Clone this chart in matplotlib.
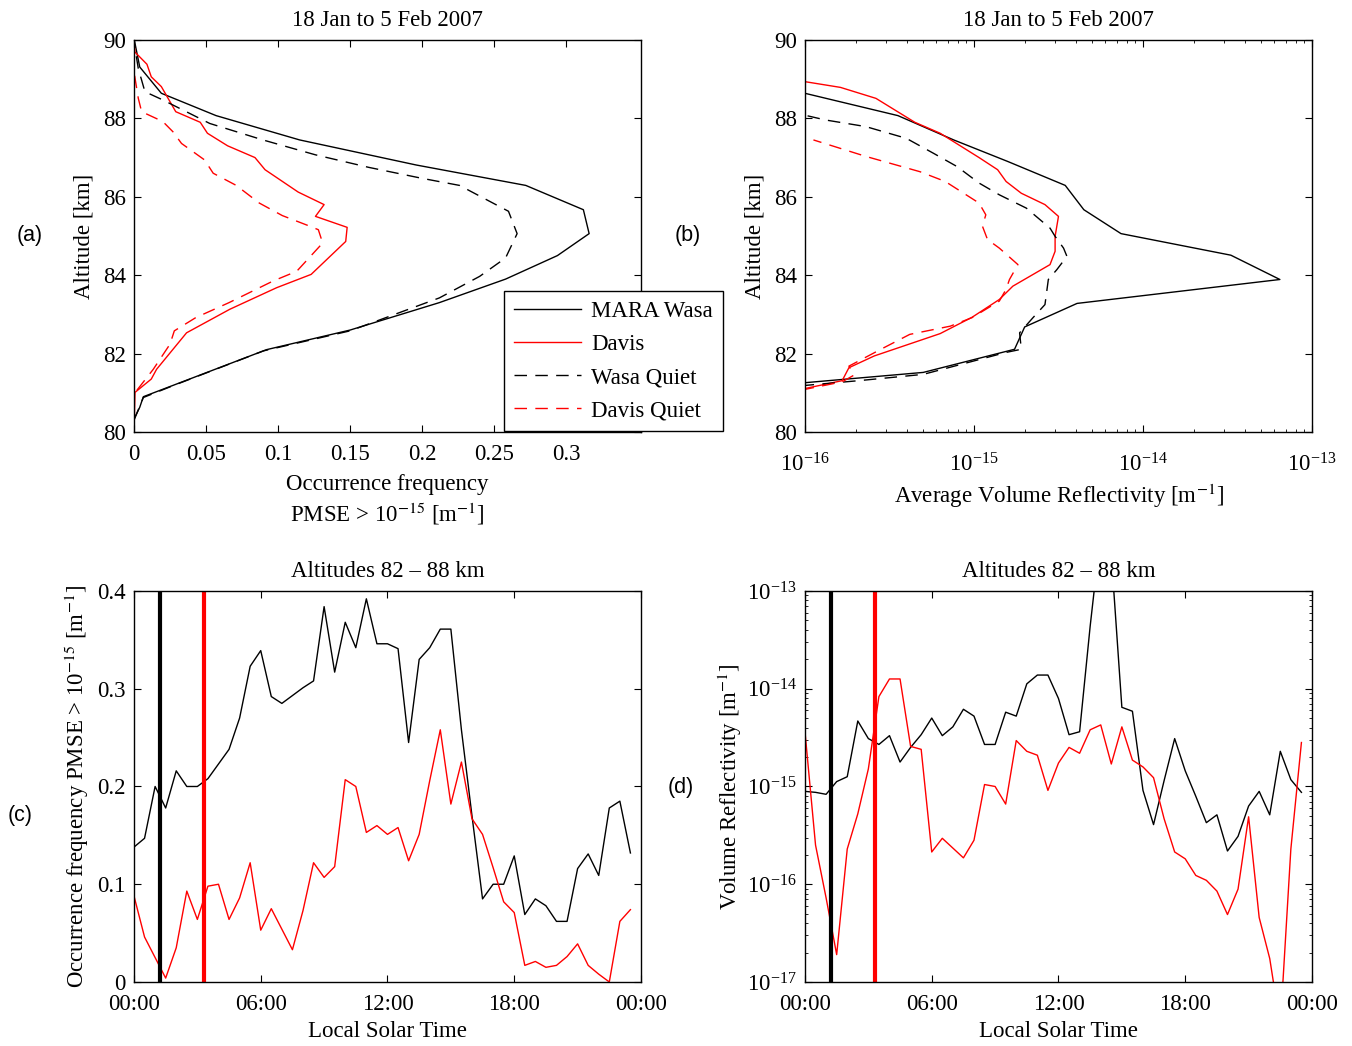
import numpy as np
import matplotlib
matplotlib.use("Agg")
import matplotlib.pyplot as plt
from matplotlib.ticker import FixedLocator, NullFormatter, LogLocator, FuncFormatter

plt.rcParams['font.family'] = ['Liberation Serif', 'DejaVu Serif']
plt.rcParams['mathtext.fontset'] = 'stix'
plt.rcParams['font.size'] = 16.5
plt.rcParams['axes.linewidth'] = 1.0
plt.rcParams['xtick.direction'] = 'in'
plt.rcParams['ytick.direction'] = 'in'
plt.rcParams['xtick.top'] = True
plt.rcParams['ytick.right'] = True
plt.rcParams['xtick.major.size'] = 5
plt.rcParams['ytick.major.size'] = 5
plt.rcParams['xtick.minor.size'] = 2.5
plt.rcParams['ytick.minor.size'] = 2.5
plt.rcParams['xtick.major.pad'] = 9
plt.rcParams['ytick.major.pad'] = 6

# ---- panel (a): occurrence frequency profiles ----
wasa_freq = [0, 0.004, 0.0065, 0.092, 0.15, 0.212, 0.258, 0.294, 0.316, 0.312,
             0.272, 0.196, 0.115, 0.057, 0.019, 0.004, 0.0005]
wasa_alt = [80.33, 80.63, 80.9, 82.1, 82.6, 83.3, 83.9, 84.5, 85.06, 85.67,
            86.29, 86.81, 87.45, 88.07, 88.64, 89.31, 89.95]
wasaq_freq = [0, 0.0065, 0.027, 0.09, 0.15, 0.212, 0.240, 0.258, 0.266, 0.260,
              0.226, 0.200, 0.163, 0.126, 0.0895, 0.0526, 0.020, 0.0076, 0.003, 0]
wasaq_alt = [80.3, 80.88, 81.18, 82.07, 82.58, 83.42, 83.97, 84.44, 85.06, 85.63,
             86.29, 86.47, 86.75, 87.07, 87.45, 87.87, 88.47, 88.68, 89.27, 89.95]
davis_freq = [0, 0.0007, 0.012, 0.0157, 0.0365, 0.0665, 0.099, 0.123, 0.147, 0.148,
              0.126, 0.132, 0.114, 0.091, 0.084, 0.065, 0.051, 0.046, 0.029, 0.019,
              0.012, 0.009, 0.0007, 0]
davis_alt = [80.0, 81.01, 81.35, 81.60, 82.53, 83.13, 83.68, 84.02, 84.86, 85.22,
             85.50, 85.80, 86.12, 86.69, 87.0, 87.30, 87.62, 87.90, 88.17, 88.81,
             89.06, 89.38, 89.69, 89.95]
davisq_freq = [0, 0, 0.0134, 0.025, 0.028, 0.043, 0.066, 0.0965, 0.113, 0.131,
               0.128, 0.122, 0.103, 0.087, 0.071, 0.055, 0.049, 0.033, 0.027, 0.020,
               0.0053, 0.003, 0, 0]
davisq_alt = [80.03, 80.97, 81.60, 82.24, 82.58, 82.92, 83.30, 83.85, 84.10, 84.82,
              85.16, 85.25, 85.52, 85.84, 86.29, 86.60, 86.94, 87.36, 87.66, 87.92,
              88.17, 88.51, 89.19, 89.95]

# ---- panel (b): average volume reflectivity profiles (log10 m^-1) ----
wasa_logref = [-16.02, -15.30, -14.76, -14.70, -14.39, -13.19, -13.48, -14.13, -14.35,
               -14.46, -14.80, -15.12, -15.45, -16.02]
wasa_ref_alt = [81.25, 81.52, 82.11, 82.68, 83.28, 83.89, 84.51, 85.06, 85.67,
                86.29, 86.90, 87.45, 88.07, 88.66]
wasaq_logref = [-16.02, -15.68, -15.30, -14.81, -14.72, -14.73, -14.65, -14.58, -14.56,
                -14.51, -14.45, -14.47, -14.52, -14.55, -14.69, -14.85, -14.97, -15.10,
                -15.24, -15.40, -15.64, -15.88, -16.02]
wasaq_ref_alt = [81.18, 81.31, 81.47, 82.03, 82.11, 82.53, 82.92, 83.25, 83.89,
                 84.14, 84.48, 84.69, 84.99, 85.20, 85.71, 86.05, 86.35, 86.77,
                 87.11, 87.49, 87.79, 87.96, 88.10]
davis_logref = [-16.02, -15.78, -15.74, -15.59, -15.20, -15.01, -14.85, -14.77, -14.55,
                -14.52, -14.52, -14.50, -14.58, -14.72, -14.81, -14.86, -14.97, -15.20,
                -15.35, -15.58, -15.79, -16.02]
davis_ref_alt = [81.09, 81.31, 81.64, 81.94, 82.51, 82.93, 83.38, 83.72, 84.27,
                 84.61, 84.99, 85.50, 85.80, 86.09, 86.39, 86.69, 87.0, 87.62,
                 87.90, 88.51, 88.79, 88.95]
davisq_logref = [-16.02, -15.78, -15.71, -15.74, -15.56, -15.38, -15.14, -15.01, -14.85,
                 -14.81, -14.79, -14.74, -14.85, -14.92, -14.95, -14.93, -14.97, -15.17,
                 -15.32, -15.64, -15.95]
davisq_ref_alt = [81.07, 81.28, 81.45, 81.68, 82.09, 82.49, 82.70, 82.92, 83.34,
                  83.64, 83.89, 84.27, 84.69, 84.91, 85.25, 85.54, 85.84, 86.39,
                  86.64, 87.03, 87.45]

# ---- panels (c), (d): diurnal variation, 82-88 km ----
lst_hours = [0.0, 0.5, 1.0, 1.5, 2.0, 2.5, 3.0, 3.5, 4.0, 4.5, 5.0, 5.5,
             6.0, 6.5, 7.0, 7.5, 8.0, 8.5, 9.0, 9.5, 10.0, 10.5, 11.0, 11.5,
             12.0, 12.5, 13.0, 13.5, 14.0, 14.5, 15.0, 15.5, 16.0, 16.5, 17.0, 17.5,
             18.0, 18.5, 19.0, 19.5, 20.0, 20.5, 21.0, 21.5, 22.0, 22.5, 23.0, 23.5]
wasa_occ = [0.138, 0.147, 0.200, 0.178, 0.216, 0.200, 0.200, 0.208, 0.223, 0.238,
            0.270, 0.323, 0.339, 0.292, 0.285, 0.293, 0.301, 0.308, 0.384, 0.317,
            0.368, 0.342, 0.392, 0.346, 0.346, 0.341, 0.245, 0.330, 0.342, 0.361,
            0.361, 0.258, 0.170, 0.085, 0.100, 0.100, 0.129, 0.069, 0.085, 0.078,
            0.062, 0.062, 0.116, 0.131, 0.109, 0.178, 0.185, 0.132]
davis_occ = [0.088, 0.046, 0.025, 0.004, 0.035, 0.093, 0.064, 0.098, 0.100, 0.064,
             0.086, 0.122, 0.053, 0.075, 0.054, 0.033, 0.073, 0.122, 0.107, 0.118,
             0.207, 0.200, 0.153, 0.160, 0.151, 0.158, 0.124, 0.151, 0.206, 0.258,
             0.182, 0.225, 0.167, 0.151, 0.117, 0.082, 0.071, 0.017, 0.021, 0.015,
             0.017, 0.026, 0.039, 0.017, 0.008, 0.0, 0.062, 0.074]
wasa_logvr = [-15.05, -15.06, -15.08, -14.95, -14.90, -14.33, -14.51, -14.57, -14.48, -14.75,
              -14.60, -14.47, -14.30, -14.48, -14.39, -14.21, -14.28, -14.57, -14.57, -14.24,
              -14.28, -13.95, -13.86, -13.86, -14.10, -14.47, -14.44, -13.36, -12.40, -12.63,
              -14.19, -14.23, -15.04, -15.39, -14.94, -14.51, -14.84, -15.10, -15.37, -15.29,
              -15.66, -15.51, -15.20, -15.05, -15.29, -14.64, -14.93, -15.06]
davis_logvr = [-14.44, -15.60, -16.14, -16.72, -15.64, -15.28, -14.82, -14.08, -13.90, -13.90,
               -14.59, -14.62, -15.67, -15.53, -15.63, -15.73, -15.55, -14.98, -15.00, -15.18,
               -14.53, -14.64, -14.68, -15.04, -14.76, -14.60, -14.66, -14.42, -14.37, -14.77,
               -14.39, -14.73, -14.80, -14.91, -15.33, -15.67, -15.74, -15.91, -15.96, -16.07,
               -16.31, -16.05, -15.31, -16.34, -16.76, -17.45, -15.64, -14.55]
wasa_sunrise = 1.22
davis_sunrise = 3.31

fig = plt.figure(figsize=(13.52, 10.46), dpi=100)
ax_a = fig.add_axes([0.0991, 0.587, 0.375, 0.3748])
ax_b = fig.add_axes([0.5954, 0.587, 0.375, 0.3748])
ax_c = fig.add_axes([0.0991, 0.0612, 0.375, 0.3738])
ax_d = fig.add_axes([0.5954, 0.0612, 0.375, 0.3738])

dash = (0, (9, 6))
lw = 1.0
fs = 16.5

# (a)
ax_a.plot(wasa_freq, wasa_alt, color='k', lw=lw, label='MARA Wasa')
ax_a.plot(davis_freq, davis_alt, color='r', lw=lw, label='Davis')
ax_a.plot(wasaq_freq, wasaq_alt, color='k', lw=lw, ls=dash, label='Wasa Quiet')
ax_a.plot(davisq_freq, davisq_alt, color='r', lw=lw, ls=dash, label='Davis Quiet')
ax_a.set_xlim(0, 0.352)
ax_a.set_ylim(80, 90)
ax_a.xaxis.set_major_locator(FixedLocator([0, 0.05, 0.1, 0.15, 0.2, 0.25, 0.3]))
ax_a.xaxis.set_major_formatter(FuncFormatter(lambda v, p: '%g' % round(v, 3)))
ax_a.yaxis.set_major_locator(FixedLocator([80, 82, 84, 86, 88, 90]))
ax_a.set_title('18 Jan to 5 Feb 2007', fontsize=fs, pad=10)
ax_a.set_xlabel('Occurrence frequency\nPMSE > 10$^{-15}$ [m$^{-1}$]', linespacing=1.25, labelpad=6)
ax_a.set_ylabel('Altitude [km]', labelpad=6)
leg = ax_a.legend(loc='upper left', bbox_to_anchor=(0.730, 0.360), borderaxespad=0,
                  fancybox=False, edgecolor='k', framealpha=1, handlelength=2.9,
                  handletextpad=0.45, labelspacing=0.52, borderpad=0.45, fontsize=fs)
leg.get_frame().set_linewidth(1.0)
leg.set_zorder(10)

# (b)
ax_b.plot([10 ** v for v in wasa_logref], wasa_ref_alt, color='k', lw=lw)
ax_b.plot([10 ** v for v in davis_logref], davis_ref_alt, color='r', lw=lw)
ax_b.plot([10 ** v for v in wasaq_logref], wasaq_ref_alt, color='k', lw=lw, ls=dash)
ax_b.plot([10 ** v for v in davisq_logref], davisq_ref_alt, color='r', lw=lw, ls=dash)
ax_b.set_xscale('log')
ax_b.set_xlim(1e-16, 1e-13)
ax_b.set_ylim(80, 90)
ax_b.xaxis.set_major_locator(LogLocator(base=10, numticks=10))
ax_b.xaxis.set_minor_locator(LogLocator(base=10, subs=np.arange(2, 10), numticks=20))
ax_b.xaxis.set_minor_formatter(NullFormatter())
ax_b.tick_params(axis='x', which='major', pad=15)
ax_b.yaxis.set_major_locator(FixedLocator([80, 82, 84, 86, 88, 90]))
ax_b.set_title('18 Jan to 5 Feb 2007', fontsize=fs, pad=10)
ax_b.set_xlabel('Average Volume Reflectivity [m$^{-1}$]', labelpad=4)
ax_b.set_ylabel('Altitude [km]', labelpad=6)

# (c)
ax_c.plot(lst_hours, wasa_occ, color='k', lw=lw)
ax_c.plot(lst_hours, davis_occ, color='r', lw=lw)
ax_c.axvline(wasa_sunrise, color='k', lw=3)
ax_c.axvline(davis_sunrise, color='r', lw=3)
ax_c.set_xlim(0, 24)
ax_c.set_ylim(0, 0.4)
ax_c.xaxis.set_major_locator(FixedLocator([0, 6, 12, 18, 24]))
ax_c.set_xticklabels(['00:00', '06:00', '12:00', '18:00', '00:00'])
ax_c.yaxis.set_major_locator(FixedLocator([0, 0.1, 0.2, 0.3, 0.4]))
ax_c.yaxis.set_major_formatter(FuncFormatter(lambda v, p: '%g' % round(v, 3)))
ax_c.set_title('Altitudes 82 \u2013 88 km', fontsize=fs, pad=10)
ax_c.set_xlabel('Local Solar Time', labelpad=4)
ax_c.set_ylabel('Occurrence frequency PMSE > 10$^{-15}$ [m$^{-1}$]', labelpad=4)

# (d)
ax_d.plot(lst_hours, [10 ** v for v in wasa_logvr], color='k', lw=lw)
ax_d.plot(lst_hours, [10 ** v for v in davis_logvr], color='r', lw=lw)
ax_d.axvline(wasa_sunrise, color='k', lw=3)
ax_d.axvline(davis_sunrise, color='r', lw=3)
ax_d.set_yscale('log')
ax_d.set_xlim(0, 24)
ax_d.set_ylim(1e-17, 1e-13)
ax_d.xaxis.set_major_locator(FixedLocator([0, 6, 12, 18, 24]))
ax_d.set_xticklabels(['00:00', '06:00', '12:00', '18:00', '00:00'])
ax_d.yaxis.set_major_locator(LogLocator(base=10, numticks=10))
ax_d.yaxis.set_minor_locator(LogLocator(base=10, subs=np.arange(2, 10), numticks=20))
ax_d.yaxis.set_minor_formatter(NullFormatter())
ax_d.set_title('Altitudes 82 \u2013 88 km', fontsize=fs, pad=10)
ax_d.set_xlabel('Local Solar Time', labelpad=4)
ax_d.set_ylabel('Volume Reflectivity [m$^{-1}$]', labelpad=2)

# panel letters
for lab, (px, py) in {'(a)': (30, 236), '(b)': (688, 236),
                      '(c)': (20, 815), '(d)': (681, 787)}.items():
    fig.text(px / 1352, 1 - py / 1046, lab, family='Liberation Sans', fontsize=15.5,
             ha='center', va='center')

fig.savefig('out.png', dpi=100)
